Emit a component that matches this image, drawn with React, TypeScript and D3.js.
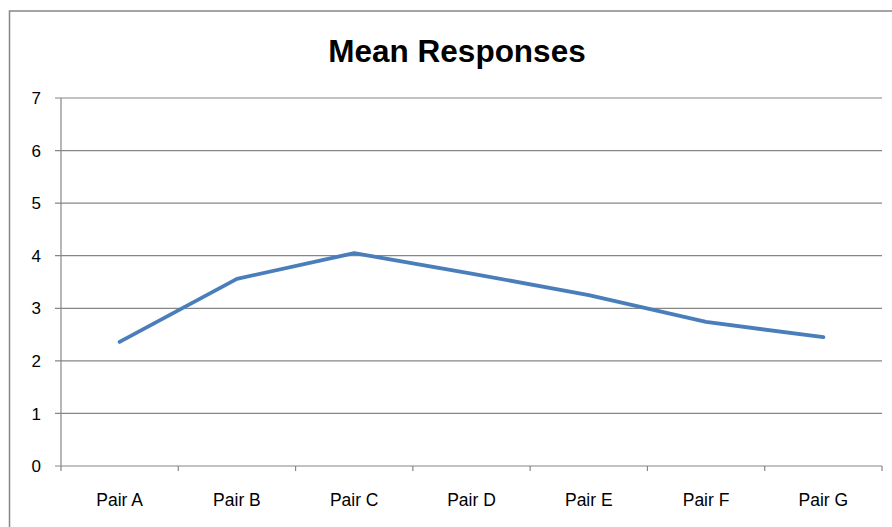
import * as d3 from 'd3'

const categories = ['Pair A', 'Pair B', 'Pair C', 'Pair D', 'Pair E', 'Pair F', 'Pair G']
const meanValues = [2.36, 3.56, 4.05, 3.66, 3.25, 2.74, 2.45]
const yTicks = [0, 1, 2, 3, 4, 5, 6, 7]

const W = 892
const H = 527
const margin = { top: 98, right: 10, bottom: 61, left: 61 }
const GRID = '#868686'
const FONT = "'Liberation Sans', Arial, sans-serif"

export default function App() {
  const innerW = W - margin.left - margin.right
  const innerH = H - margin.top - margin.bottom

  const x = d3.scaleBand().domain(categories).range([0, innerW])
  const y = d3.scaleLinear().domain([0, 7]).range([innerH, 0])

  const line = d3.line<number>()
    .x((_, i) => x(categories[i])! + x.bandwidth() / 2)
    .y(d => y(d))

  const boundaries = categories.map(c => x(c)!).concat([innerW])

  return (
    <svg width={W} height={H} style={{ position: 'absolute', left: 0, top: 0, background: '#fff' }}>
      {/* chart frame, cut off at right and bottom */}
      <rect x={9.5} y={11} width={W + 20} height={H + 20} fill="#fff" stroke={GRID} strokeWidth={1.5} />

      <text x={457} y={62} textAnchor="middle" fontFamily={FONT} fontWeight="bold" fontSize={31.5} fill="#000">
        Mean Responses
      </text>

      <g transform={`translate(${margin.left},${margin.top})`}>
        {/* grid lines and y ticks */}
        {yTicks.map(t => (
          <g key={t}>
            <line x1={-6} x2={innerW} y1={y(t)} y2={y(t)} stroke={GRID} strokeWidth={1.2} />
            <text x={-20} y={y(t)} dy="0.36em" textAnchor="end" fontFamily={FONT} fontSize={17} fill="#000">
              {t}
            </text>
          </g>
        ))}

        {/* y axis */}
        <line x1={0} x2={0} y1={0} y2={innerH} stroke={GRID} strokeWidth={1.2} />

        {/* x axis tick marks */}
        {boundaries.map((b, i) => (
          <line key={i} x1={b} x2={b} y1={innerH} y2={innerH + 5} stroke={GRID} strokeWidth={1.2} />
        ))}

        {/* category labels */}
        {categories.map(c => (
          <text key={c} x={x(c)! + x.bandwidth() / 2} y={innerH + 40} textAnchor="middle"
            fontFamily={FONT} fontSize={17.5} fill="#000">
            {c}
          </text>
        ))}

        <path d={line(meanValues)!} fill="none" stroke="#4A7EBB" strokeWidth={3.8}
          strokeLinecap="round" strokeLinejoin="round" />
      </g>
    </svg>
  )
}
